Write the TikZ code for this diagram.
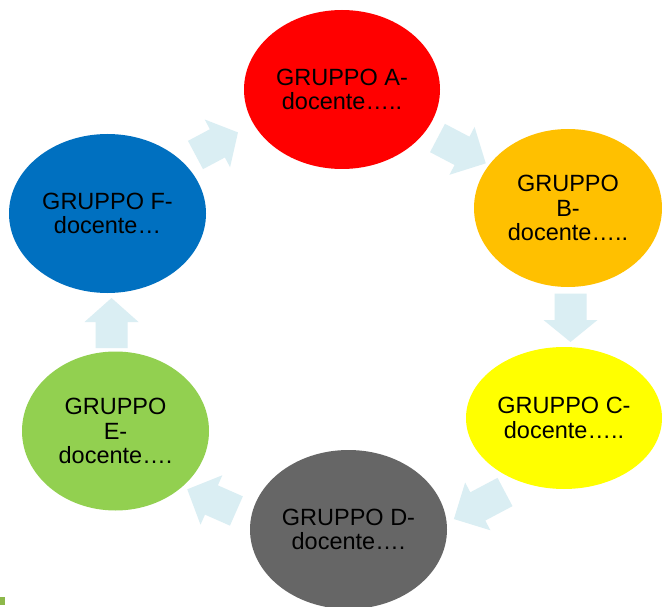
\documentclass[tikz,border=0pt]{standalone}
\usepackage{fontspec}
\setmainfont{Liberation Sans}
\usetikzlibrary{shapes.geometric}
\definecolor{cA}{HTML}{FF0000}
\definecolor{cB}{HTML}{FFC000}
\definecolor{cC}{HTML}{FFFF00}
\definecolor{cD}{HTML}{666666}
\definecolor{cE}{HTML}{92D050}
\definecolor{cF}{HTML}{0070C0}
\definecolor{arrowfill}{HTML}{DAEEF3}
\definecolor{markgreen}{HTML}{8DB84A}
\tikzset{
  grp/.style={ellipse, inner sep=0pt, align=center, text=black,
    font=\fontsize{23.5}{24.5}\selectfont},
  pics/blockarr/.style 2 args={code={
    \fill[arrowfill] (0,-16) -- (#1,-16) -- (#1,-27) -- ({#1+#2},0)
      -- (#1,27) -- (#1,16) -- (0,16) -- cycle;
  }}
}
\begin{document}
\begin{tikzpicture}[x=1pt,y=-1pt]
\clip (0,0) rectangle (662,607);
\fill[white] (0,0) rectangle (662,607);
% groups
\node[grp, fill=cA, minimum width=196pt, minimum height=159pt] (A) at (342,89.5) {GRUPPO A-\\docente…..};
\node[grp, fill=cB, minimum width=188pt, minimum height=158pt] (B) at (568,208) {GRUPPO\\B-\\docente…..};
\node[grp, fill=cC, minimum width=196pt, minimum height=142pt] (C) at (564,418) {GRUPPO C-\\docente…..};
\node[grp, fill=cD, minimum width=197pt, minimum height=159pt] (D) at (348.5,529.5) {GRUPPO D-\\docente….};
\node[grp, fill=cE, minimum width=187pt, minimum height=159pt] (E) at (115.5,431) {GRUPPO\\E-\\docente….};
\node[grp, fill=cF, minimum width=197pt, minimum height=159pt] (F) at (107.5,213.5) {GRUPPO F-\\docente…};
% cycle arrows
\pic[rotate=28]     at (195.5,155)   {blockarr={24.8}{23.3}}; % F -> A
\pic[rotate=-27.7]  at (437.5,138)   {blockarr={27.7}{26.8}}; % A -> B
\pic[rotate=-90]    at (570.5,293.5) {blockarr={26.5}{22}};   % B -> C
\pic[rotate=-152.1] at (505,492)     {blockarr={30.8}{27}};   % C -> D
\pic[rotate=156.2]  at (236.4,511)   {blockarr={27.3}{26.4}}; % D -> E
\pic[rotate=90]     at (111.5,348)   {blockarr={26}{24}};     % E -> F
% small mark bottom left
\fill[markgreen] (0,597) rectangle (5,605);
\end{tikzpicture}
\end{document}
